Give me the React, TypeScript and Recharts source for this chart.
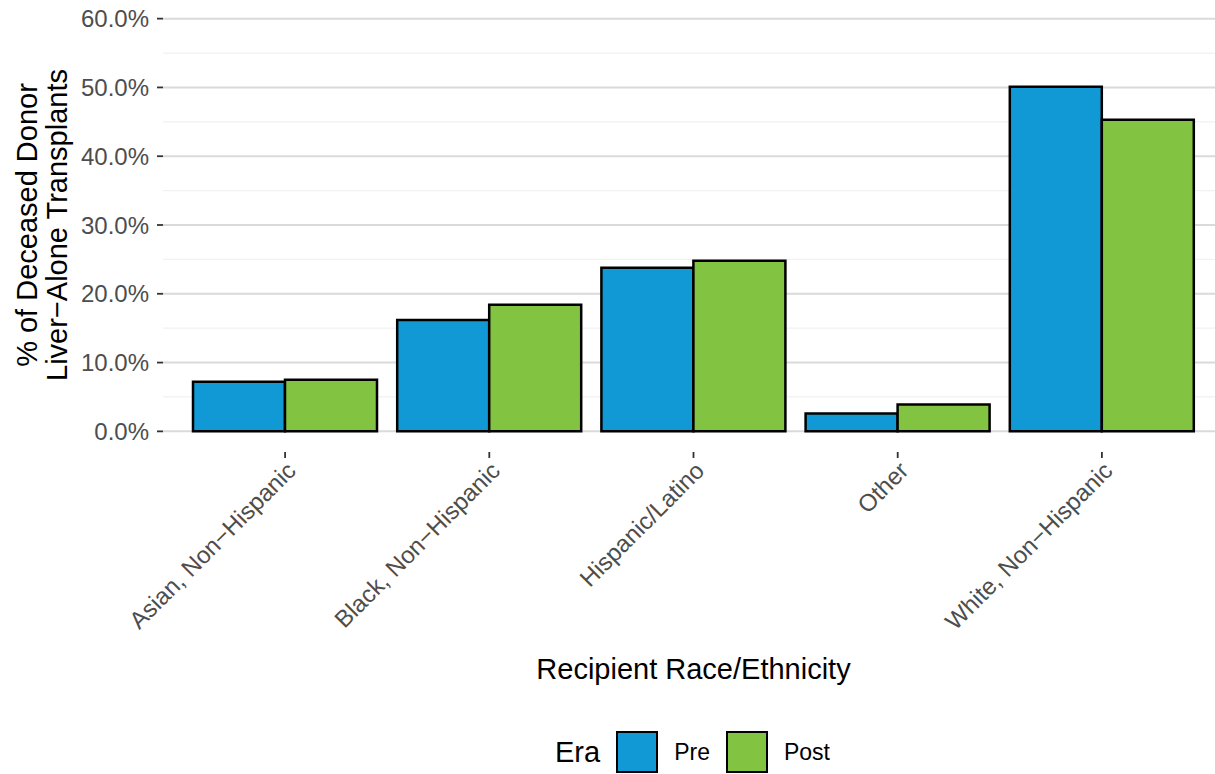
import { BarChart, Bar, XAxis, YAxis, CartesianGrid } from 'recharts'

const CATEGORIES = [
  'Asian, Non−Hispanic',
  'Black, Non−Hispanic',
  'Hispanic/Latino',
  'Other',
  'White, Non−Hispanic',
]
const PRE = [7.2, 16.2, 23.8, 2.6, 50.1]
const POST = [7.5, 18.4, 24.8, 3.9, 45.3]
const MAJOR_TICKS = [0, 10, 20, 30, 40, 50, 60]
const MINOR_TICKS = [5, 15, 25, 35, 45, 55]
const Y_DOMAIN = [-3, 63]

const SERIES = [
  { key: 'pre', name: 'Pre', color: '#1199d6' },
  { key: 'post', name: 'Post', color: '#82c341' },
]

const data = CATEGORIES.map((cat, i) => ({ cat, pre: PRE[i], post: POST[i] }))

const FONT = '"Liberation Sans", Arial, Helvetica, sans-serif'

function XTick({ x, y, payload }: any) {
  return (
    <text
      x={x}
      y={y}
      transform={`rotate(-45 ${x} ${y})`}
      textAnchor="end"
      dy="0.72em"
      fontSize={24}
      fill="#4d4d4d"
      fontFamily={FONT}
    >
      {payload.value}
    </text>
  )
}

function YTitle({ viewBox }: any) {
  const cy = viewBox.y + viewBox.height / 2
  return (
    <g fontFamily={FONT} fontSize={29} fill="#000">
      <text x={37} y={cy} transform={`rotate(-90 37 ${cy})`} textAnchor="middle">
        % of Deceased Donor
      </text>
      <text x={67} y={cy} transform={`rotate(-90 67 ${cy})`} textAnchor="middle">
        Liver−Alone Transplants
      </text>
    </g>
  )
}

function XTitle({ viewBox }: any) {
  return (
    <text
      x={viewBox.x + viewBox.width / 2}
      y={viewBox.y + 227}
      textAnchor="middle"
      fontSize={29}
      fill="#000"
      fontFamily={FONT}
    >
      Recipient Race/Ethnicity
    </text>
  )
}

export default function App() {
  return (
    <div
      style={{
        position: 'absolute',
        left: 0,
        top: 0,
        width: 1215,
        height: 774,
        overflow: 'hidden',
        background: '#fff',
        fontFamily: FONT,
      }}
    >
      <BarChart
        width={1226}
        height={774}
        data={data}
        margin={{ top: -2, right: 2, bottom: 0, left: 0 }}
        barCategoryGap={10}
        barGap={0}
      >
        <CartesianGrid
          vertical={false}
          horizontalValues={MINOR_TICKS}
          stroke="#f1f1f1"
          strokeWidth={1.2}
        />
        <CartesianGrid
          vertical={false}
          horizontalValues={MAJOR_TICKS}
          stroke="#dadada"
          strokeWidth={2}
        />
        <XAxis
          dataKey="cat"
          height={322}
          padding={{ left: 20, right: 20 }}
          axisLine={false}
          tickLine={{ stroke: '#333', strokeWidth: 1.8 }}
          tickSize={6}
          tickMargin={2}
          tick={<XTick />}
          interval={0}
          label={<XTitle />}
        />
        <YAxis
          width={163}
          domain={Y_DOMAIN}
          ticks={MAJOR_TICKS}
          allowDataOverflow
          axisLine={false}
          tickLine={{ stroke: '#333', strokeWidth: 1.8 }}
          tickSize={6}
          tickMargin={8}
          tick={{ fontSize: 24, fill: '#4d4d4d', fontFamily: FONT }}
          tickFormatter={(v: number) => `${v.toFixed(1)}%`}
          label={<YTitle />}
        />
        {SERIES.map((s) => (
          <Bar
            key={s.key}
            dataKey={s.key}
            name={s.name}
            fill={s.color}
            stroke="#000"
            strokeWidth={2.5}
            isAnimationActive={false}
          />
        ))}
      </BarChart>
      {/* Legend */}
      <div
        style={{
          position: 'absolute',
          left: 555,
          top: 731,
          height: 42,
          display: 'flex',
          alignItems: 'center',
          color: '#000',
        }}
      >
        <span style={{ fontSize: 29, marginRight: 16 }}>Era</span>
        {SERIES.map((s) => (
          <div key={s.key} style={{ display: 'flex', alignItems: 'center' }}>
            <span
              style={{
                width: 38,
                height: 38,
                background: s.color,
                border: '2.5px solid #000',
                marginRight: 16,
              }}
            />
            <span style={{ fontSize: 23, marginRight: 16 }}>{s.name}</span>
          </div>
        ))}
      </div>
    </div>
  )
}
